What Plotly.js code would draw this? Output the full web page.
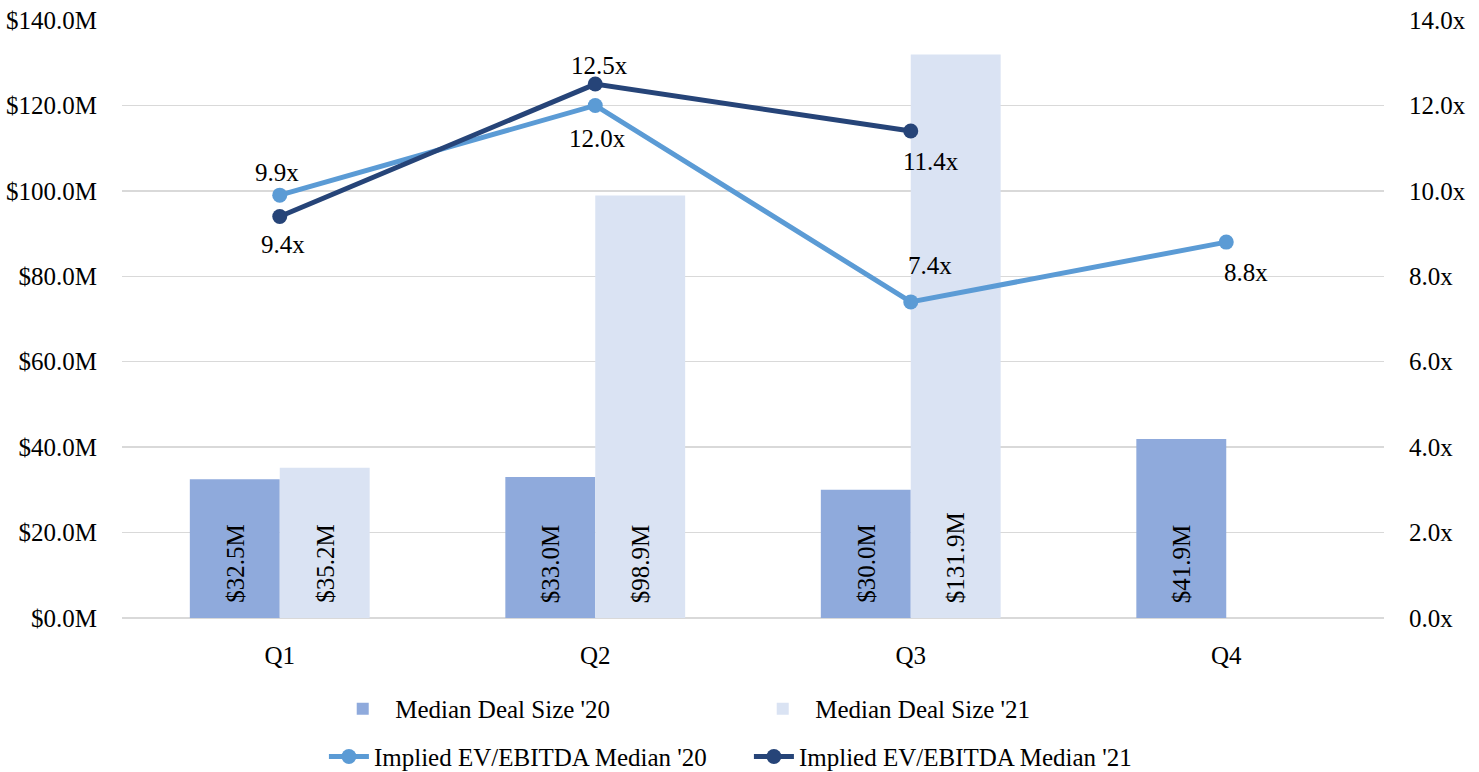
<!DOCTYPE html>
<html>
<head>
<meta charset="utf-8">
<script src="https://cdn.plot.ly/plotly-3.0.1.min.js"></script>
<style>html,body{margin:0;padding:0;background:#fff;}#chart{width:1479px;height:772px;}</style>
</head>
<body>
<div id="chart"></div>
<script>
const quarters = ['Q1', 'Q2', 'Q3', 'Q4'];
const dealSize20 = [32.5, 33.0, 30.0, 41.9];
const dealSize21 = [35.2, 98.9, 131.9, null];
const evEbitda20 = [9.9, 12.0, 7.4, 8.8];
const evEbitda21 = [9.4, 12.5, 11.4, null];

const FONT = 'Liberation Serif, Times New Roman, serif';
const FS = 25;

// label placement (pixel shifts) for the line labels
const shift20 = [[-3, 23], [2, -33], [19, 36], [20, -30]];
const shift21 = [[3, -28], [4, 19], [20, -30], [0, 0]];

const traces = [
  {
    type: 'bar', name: "Median Deal Size '20", x: quarters, y: dealSize20,
    marker: {color: '#8FAADC'}, textposition: 'none',
    legend: 'legend', hoverinfo: 'skip'
  },
  {
    type: 'bar', name: "Median Deal Size '21", x: quarters, y: dealSize21,
    marker: {color: '#DAE3F3'}, textposition: 'none',
    legend: 'legend', hoverinfo: 'skip'
  },
  {
    type: 'scatter', mode: 'lines+markers', name: "Implied EV/EBITDA Median '20",
    x: quarters, y: evEbitda20, yaxis: 'y2',
    line: {color: '#5B9BD5', width: 5}, marker: {color: '#5B9BD5', size: 15},
    legend: 'legend2', hoverinfo: 'skip'
  },
  {
    type: 'scatter', mode: 'lines+markers', name: "Implied EV/EBITDA Median '21",
    x: quarters, y: evEbitda21, yaxis: 'y2',
    line: {color: '#264478', width: 5}, marker: {color: '#264478', size: 15},
    legend: 'legend2', hoverinfo: 'skip'
  }
];

const annotations = [];
function addLineLabels(vals, shifts) {
  vals.forEach((v, i) => {
    if (v === null || v === undefined) return;
    annotations.push({
      x: quarters[i], y: v, xref: 'x', yref: 'y2',
      text: v.toFixed(1) + 'x', showarrow: false,
      xshift: shifts[i][0], yshift: shifts[i][1],
      font: {family: FONT, size: FS, color: '#000'}
    });
  });
}
function addBarLabels(vals, dx) {
  vals.forEach((v, i) => {
    if (v === null || v === undefined) return;
    annotations.push({
      x: quarters[i], y: 0, xref: 'x', yref: 'y',
      text: '$' + v.toFixed(1) + 'M', showarrow: false, textangle: -90,
      xanchor: 'center', yanchor: 'bottom',
      xshift: dx, yshift: 13,
      font: {family: FONT, size: FS, color: '#000'}
    });
  });
}
addBarLabels(dealSize20, -45);
addBarLabels(dealSize21, 45);
addLineLabels(evEbitda20, shift20);
addLineLabels(evEbitda21, shift21);

const layout = {
  width: 1479, height: 772,
  margin: {l: 122, r: 95, t: 20, b: 154, autoexpand: false},
  paper_bgcolor: '#fff', plot_bgcolor: '#fff',
  font: {family: FONT, size: FS, color: '#000'},
  barmode: 'group', bargap: 0.43, bargroupgap: 0,
  showlegend: true,
  annotations: annotations,
  xaxis: {
    type: 'category', showgrid: false, showline: false, zeroline: false,
    ticks: '', ticklabelstandoff: 20, tickfont: {family: FONT, size: FS}
  },
  yaxis: {
    range: [0, 140], tickmode: 'linear', tick0: 0, dtick: 20,
    tickprefix: '$', ticksuffix: 'M', tickformat: '.1f',
    showgrid: true, gridcolor: '#D9D9D9', gridwidth: 1.5, zeroline: true, zerolinecolor: '#D9D9D9',
    zerolinewidth: 1.5, showline: false, ticks: '', ticklabelstandoff: 24,
    tickfont: {family: FONT, size: FS}
  },
  yaxis2: {
    range: [0, 14], tickmode: 'linear', tick0: 0, dtick: 2, ticksuffix: 'x', tickformat: '.1f',
    overlaying: 'y', side: 'right', showgrid: false, zeroline: false, showline: false,
    ticks: '', ticklabelstandoff: 24, tickfont: {family: FONT, size: FS}
  },
  legend: {
    orientation: 'h', x: 0.165, xanchor: 'left', y: -0.152, yanchor: 'middle',
    entrywidth: 350, entrywidthmode: 'pixels', itemwidth: 55,
    font: {family: FONT, size: FS, color: '#000'}, traceorder: 'normal'
  },
  legend2: {
    orientation: 'h', x: 0.16, xanchor: 'left', y: -0.232, yanchor: 'middle',
    entrywidth: 370, entrywidthmode: 'pixels',
    font: {family: FONT, size: FS, color: '#000'}, traceorder: 'normal', itemwidth: 40
  }
};

Plotly.newPlot('chart', traces, layout, {displayModeBar: false, staticPlot: true});
</script>
</body>
</html>
